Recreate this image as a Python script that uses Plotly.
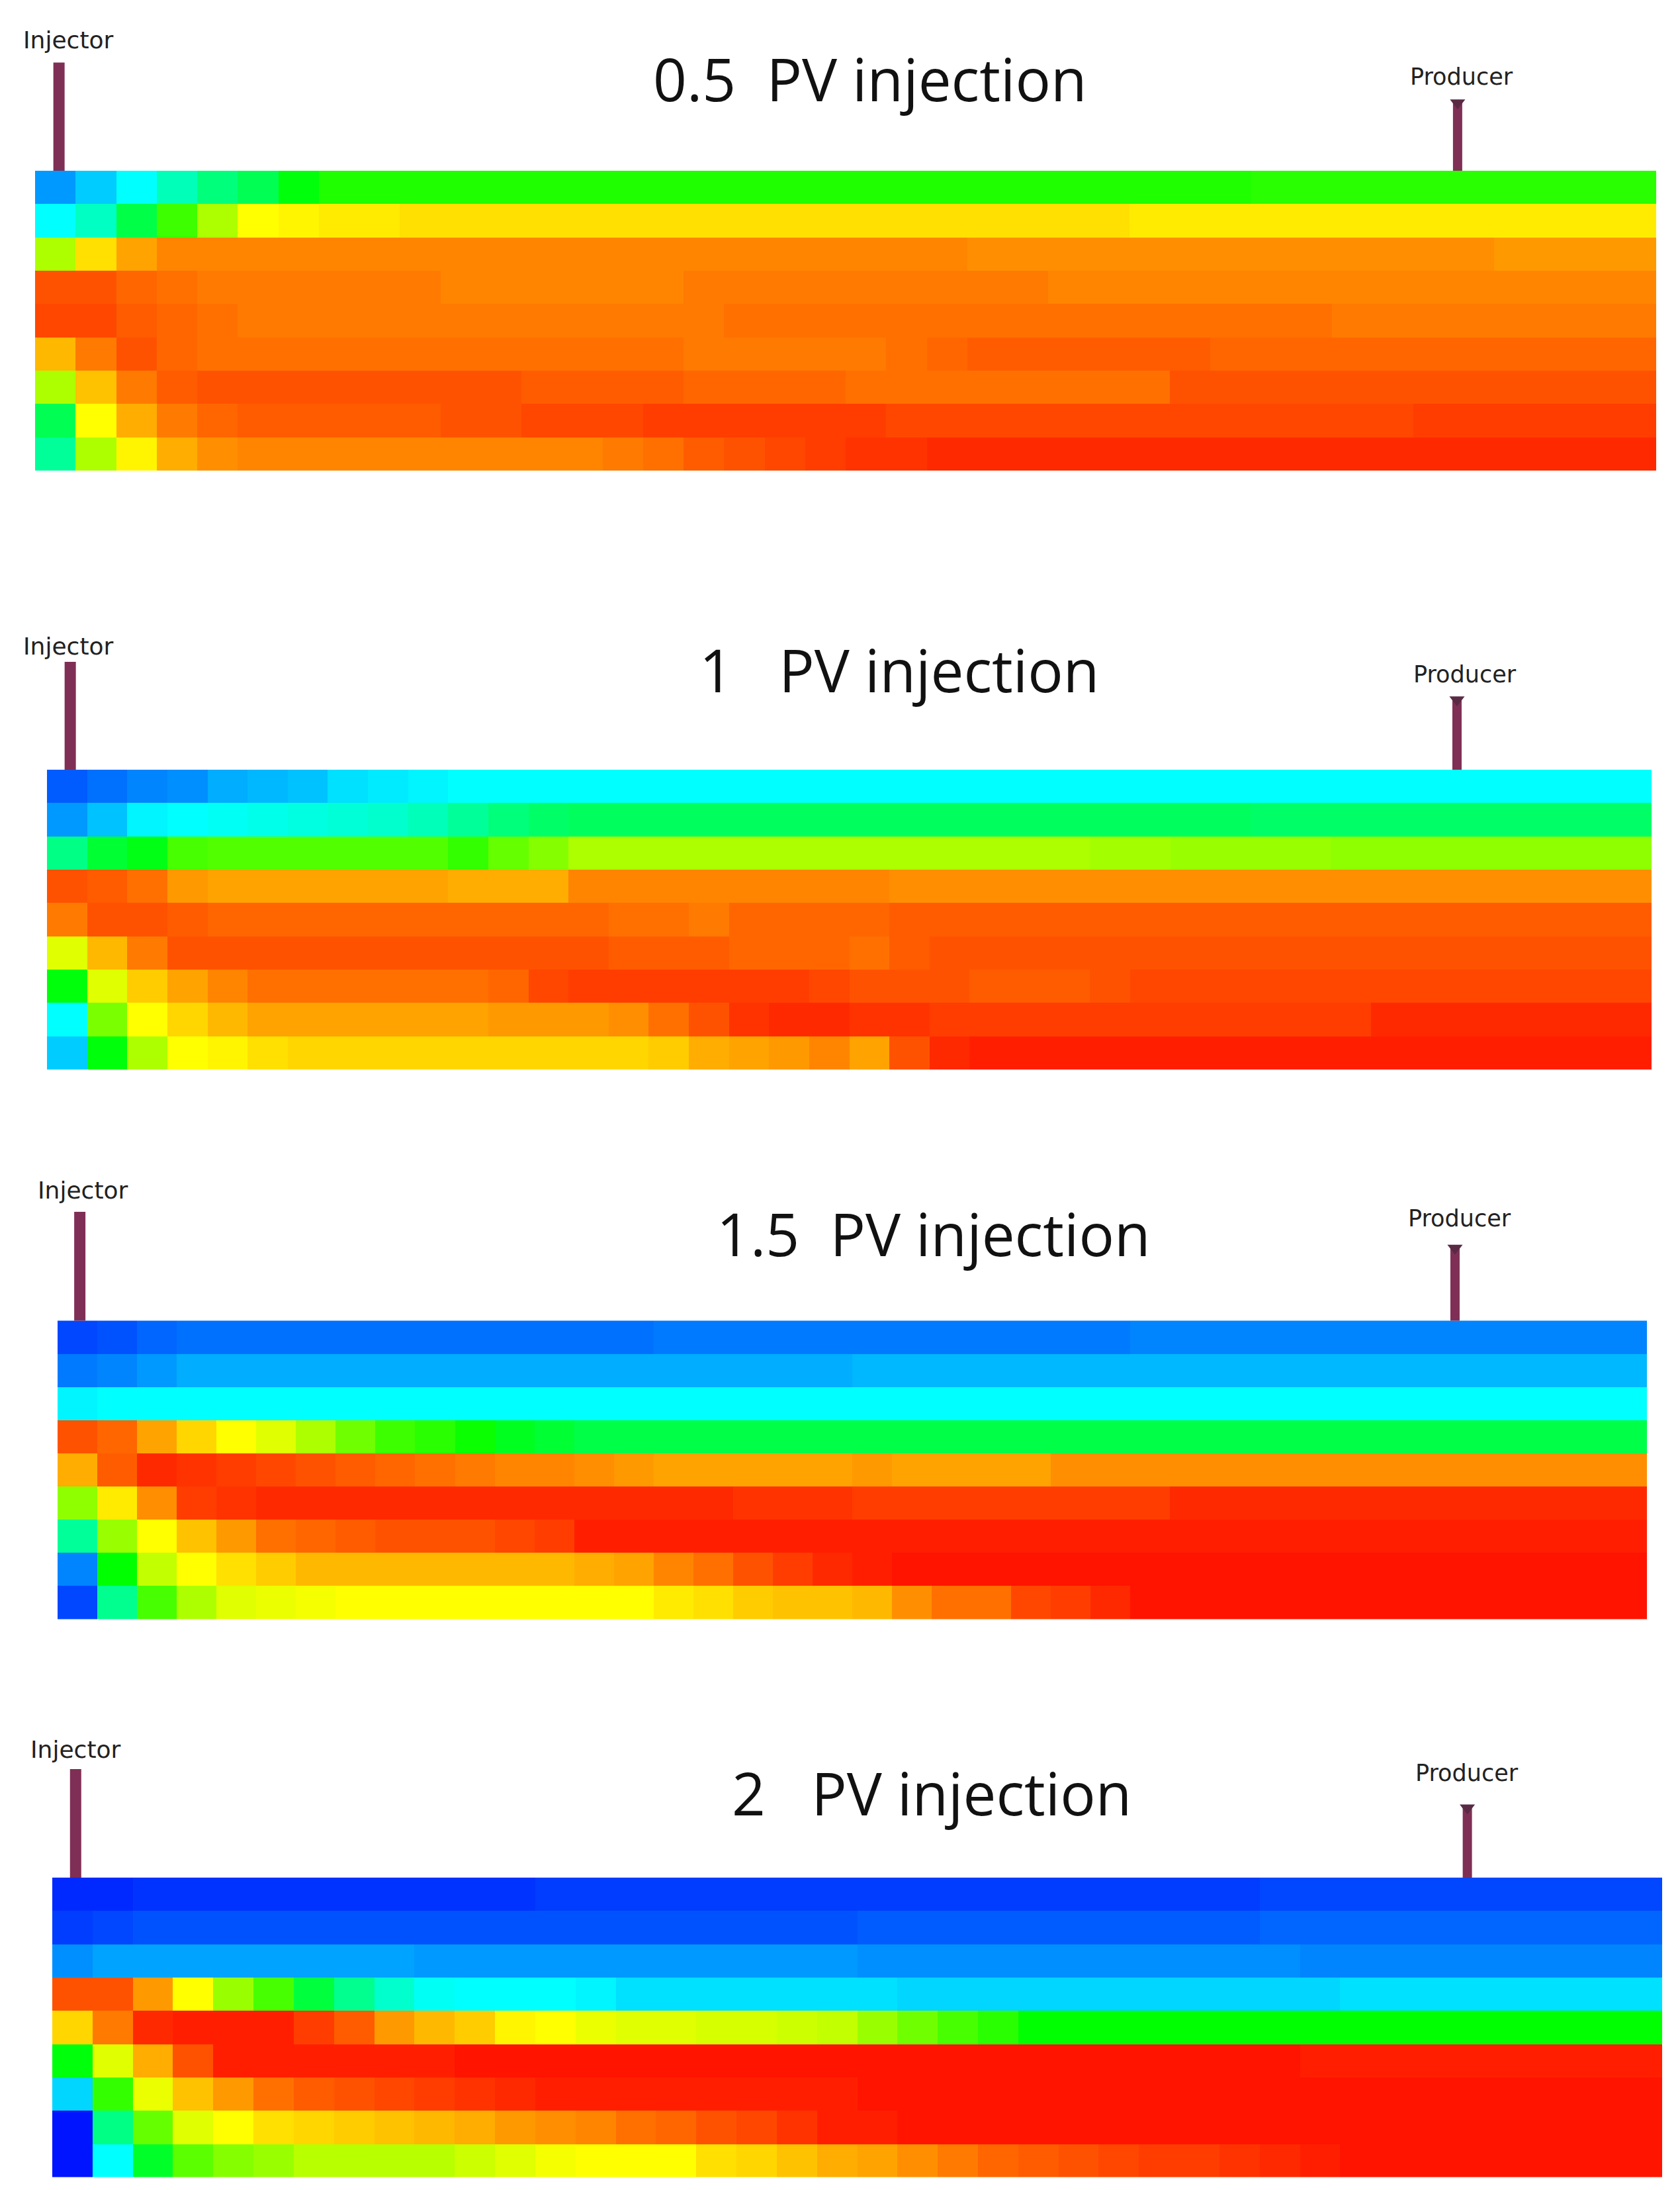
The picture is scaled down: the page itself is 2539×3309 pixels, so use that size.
import plotly.graph_objects as go

W, H = 2539, 3309

# Cell values, 0 = deep blue, 100 = red. 9 layers x 40 columns.
pv05 = [
    [15,20,25,32,38,42,49,53,53,53, 53,53,53,53,53,53,53,53,53,53, 53,53,53,53,53,53,53,53,53,53, 54,54,54,54,54,54,54,54,54,54],
    [25,31,43,56,67,75,76,77,77,78, 78,78,78,78,78,78,78,78,78,78, 78,78,78,78,78,78,78,77,77,77, 77,77,77,77,77,77,77,77,77,77],
    [67,78,84,87,87,87,87,87,87,87, 87,87,87,87,87,87,87,87,87,87, 87,87,87,86,86,86,86,86,86,86, 86,86,86,86,86,86,85,85,85,85],
    [92,92,90,89,88,88,88,88,88,88, 87,87,87,87,87,87,88,88,88,88, 88,88,88,88,88,87,87,87,87,87, 87,87,87,87,87,87,87,87,87,87],
    [93,93,91,90,89,88,88,88,88,88, 88,88,88,88,88,88,88,89,89,89, 89,89,89,89,89,89,89,89,89,89, 89,89,88,88,88,88,88,88,88,88],
    [82,88,92,90,89,89,89,89,89,89, 89,89,89,89,89,89,88,88,88,88, 88,89,90,91,91,91,91,91,91,90, 90,90,90,90,90,90,90,90,90,90],
    [67,81,88,91,92,92,92,92,92,92, 92,92,91,91,91,91,90,90,90,90, 89,89,89,89,89,89,89,89,92,92, 92,92,92,92,92,92,92,92,92,92],
    [42,75,83,88,90,91,91,91,91,91, 92,92,93,93,93,94,94,94,94,94, 94,93,93,93,93,93,93,93,93,93, 93,93,93,93,94,94,94,94,94,94],
    [35,67,76,83,86,87,87,87,87,87, 87,87,87,87,88,89,91,92,93,94, 95,95,96,96,96,96,96,96,96,96, 96,96,96,96,96,96,96,96,96,96],
]

pv10 = [
    [9,11,13,14,17,18,19,22,23,24, 25,25,25,25,25,25,25,25,25,25, 25,25,25,25,25,25,25,25,25,25, 25,25,25,25,25,25,25,25,25,25],
    [15,19,24,25,26,27,28,29,30,32, 35,38,40,41,41,41,41,41,41,41, 41,41,41,41,41,41,41,41,41,41, 40,40,40,40,40,40,40,40,40,40],
    [37,45,48,57,58,58,58,58,58,58, 55,60,63,67,67,67,67,67,67,67, 67,67,67,67,67,67,66,66,65,65, 65,65,64,64,64,64,64,64,64,64],
    [92,91,89,85,84,84,84,84,84,84, 83,83,83,87,87,87,87,87,87,87, 87,86,86,86,86,86,86,86,86,86, 86,86,86,86,86,86,86,86,86,86],
    [88,92,92,91,90,90,90,90,90,90, 90,90,90,90,89,89,88,90,90,90, 90,91,91,91,91,91,91,91,91,91, 91,91,91,91,91,91,91,91,91,91],
    [72,82,88,92,92,92,92,92,92,92, 92,92,92,92,91,91,91,90,90,90, 89,91,92,92,92,92,92,92,92,92, 92,92,92,92,92,92,92,92,92,92],
    [49,72,80,84,87,89,89,89,89,89, 89,90,93,94,94,94,94,94,94,93, 92,92,92,91,91,91,92,93,93,93, 93,93,93,93,93,93,93,93,93,93],
    [25,62,75,79,82,84,84,84,84,84, 84,85,85,85,86,89,92,95,96,96, 95,95,94,94,94,94,94,94,94,94, 94,94,94,96,96,96,96,96,96,96],
    [20,49,67,75,76,78,79,79,79,79, 79,79,79,79,79,80,83,84,85,87, 84,92,96,97,97,97,97,97,97,97, 97,97,97,97,97,97,97,97,97,97],
]

pv15 = [
    [7,8,10,11,11,11,11,11,11,11, 11,11,11,11,11,12,12,12,12,12, 12,12,12,12,12,12,12,13,13,13, 13,13,13,13,13,13,13,13,13,13],
    [12,13,15,17,17,17,17,17,17,17, 17,17,17,17,17,17,17,17,17,17, 18,18,18,18,18,18,18,18,18,18, 18,18,18,18,18,18,18,18,18,18],
    [24,25,25,25,25,25,25,25,25,25, 25,25,25,25,25,25,25,25,25,25, 25,25,25,25,25,25,25,25,25,25, 25,25,25,25,25,25,25,25,25,25],
    [92,90,84,79,75,72,67,61,56,54, 51,47,45,43,43,43,43,43,43,43, 43,43,43,43,43,43,43,43,43,43, 43,43,43,43,43,43,43,43,43,43],
    [83,91,96,95,94,93,92,91,90,89, 88,87,87,86,85,84,84,84,84,84, 85,84,84,84,84,86,86,86,86,86, 86,86,86,86,86,86,86,86,86,86],
    [64,77,86,94,95,96,96,96,96,96, 96,96,96,96,96,96,96,95,95,95, 94,94,94,94,94,94,94,94,96,96, 96,96,96,96,96,96,96,96,96,96],
    [35,65,75,81,85,89,90,91,92,92, 92,93,94,97,97,97,97,97,97,97, 97,97,97,97,97,97,97,97,97,97, 97,97,97,97,97,97,97,97,97,97],
    [13,50,69,75,78,80,82,82,82,82, 82,82,82,83,84,87,89,92,94,96, 97,98,98,98,98,98,98,98,98,98, 98,98,98,98,98,98,98,98,98,98],
    [7,36,57,67,72,73,74,75,75,75, 75,75,75,75,75,77,78,80,81,81, 82,86,89,89,93,94,96,98,98,98, 98,98,98,98,98,98,98,98,98,98],
]

pv20 = [
    [4,4,5,5,5,5,5,5,5,5, 5,5,6,6,6,6,6,6,6,6, 6,6,6,6,6,6,6,6,6,6, 7,7,7,7,7,7,7,7,7,7],
    [6,7,8,8,8,8,8,8,8,8, 8,8,8,8,8,8,8,8,8,8, 9,9,9,9,9,9,9,9,9,9, 10,10,10,10,10,10,10,10,10,10],
    [14,16,16,16,16,16,16,16,16,15, 15,15,15,15,15,15,15,15,15,15, 14,14,14,14,14,14,14,14,14,14, 14,13,13,13,13,13,13,13,13,13],
    [92,92,85,75,65,57,44,36,30,26, 25,25,25,24,22,22,22,22,22,22, 22,21,21,21,21,21,21,21,21,21, 21,21,22,22,22,22,22,22,22,22],
    [79,88,96,97,97,97,94,91,85,82, 80,76,75,73,72,72,71,71,70,69, 65,61,57,54,50,50,50,50,50,50, 50,50,50,50,50,50,50,50,50,50],
    [49,72,83,92,97,97,97,97,97,97, 98,98,98,98,98,98,98,98,98,98, 98,98,98,98,98,98,98,98,98,98, 98,97,97,97,97,97,97,97,97,97],
    [21,55,73,81,85,89,91,92,93,94, 95,96,97,97,97,97,97,97,97,97, 98,98,98,98,98,98,98,98,98,98, 98,98,98,98,98,98,98,98,98,98],
    [2,37,60,72,75,78,79,80,81,82, 83,85,86,87,89,90,92,93,95,97, 97,98,98,98,98,98,98,98,98,98, 98,98,98,98,98,98,98,98,98,98],
    [2,25,46,59,63,65,68,68,68,68, 70,72,74,75,75,75,78,79,81,83, 84,86,88,90,91,92,93,94,94,95, 96,97,98,98,98,98,98,98,98,98],
]

grids = [pv05, pv10, pv15, pv20]
titles = ["0.5  PV injection", "1   PV injection", "1.5  PV injection", "2   PV injection"]

# well position in column units and height in layer units
injector_col = [0.09, 0.08, 0.06, 0.08]
producer_col = [34.6, 34.65, 34.67, 34.66]
injector_h = [3.25, 3.24, 3.28, 3.26]
producer_h = [2.09, 2.15, 2.24, 2.15]

# page layout, in pixels of the reference
box_left = [53, 71, 87, 79]
box_right = [2503, 2496, 2489, 2512]
box_top = [258, 1163, 1995.5, 2837]
box_bottom = [711, 1616, 2447, 3289.5]
title_xy = [(1315, 118), (1359, 1011), (1411, 1863), (1408, 2708)]
inj_label_xy = [(103, 60), (103, 977), (125, 1798), (114, 2643)]
prod_label_xy = [(2209, 116), (2214, 1019), (2206, 1841), (2217, 2679)]

jet = [[0, "#0000ff"], [0.25, "#00ffff"], [0.5, "#00ff00"], [0.75, "#ffff00"], [1, "#ff0000"]]
well_color = "#7f2f55"
headroom = 3.3  # layers of empty space kept above each box for the wells

fig = go.Figure()
layout = {}
annotations = []


def px(x, y):
    return x / W, 1 - y / H


def label(text, xy, family, size, color):
    x, y = px(*xy)
    return dict(text=text, x=x, y=y, xref="paper", yref="paper", showarrow=False,
                xanchor="center", yanchor="middle",
                font=dict(family=family, size=size, color=color))


for i, z in enumerate(grids):
    suffix = "" if i == 0 else str(i + 1)
    xa, ya = "x" + suffix, "y" + suffix
    row_h = (box_bottom[i] - box_top[i]) / 9

    fig.add_trace(go.Heatmap(z=z, colorscale=jet, zmin=0, zmax=100, showscale=False,
                             xaxis=xa, yaxis=ya))
    for col, h, width, tip in [(injector_col[i], injector_h[i], 17, False),
                               (producer_col[i], producer_h[i], 14, True)]:
        fig.add_trace(go.Scatter(x=[col, col], y=[-0.5, -0.5 - h], mode="lines",
                                 line=dict(color=well_color, width=width), showlegend=False,
                                 xaxis=xa, yaxis=ya))
        if tip:
            fig.add_trace(go.Scatter(x=[col], y=[-0.45 - h], mode="markers", showlegend=False,
                                     marker=dict(symbol="triangle-down", size=20, color="#5a2a45"),
                                     xaxis=xa, yaxis=ya))

    layout["xaxis" + suffix] = dict(domain=[box_left[i] / W, box_right[i] / W], range=[-0.5, 39.5],
                                    visible=False, anchor=ya)
    layout["yaxis" + suffix] = dict(domain=[1 - box_bottom[i] / H, 1 - (box_top[i] - headroom * row_h) / H],
                                    range=[8.5, -0.5 - headroom], visible=False, anchor=xa)

    annotations.append(label(titles[i], title_xy[i], "Open Sans", 89, "#111111"))
    annotations.append(label("Injector", inj_label_xy[i], "DejaVu Sans", 36, "#222222"))
    annotations.append(label("Producer", prod_label_xy[i], "DejaVu Sans", 35, "#222222"))

fig.update_layout(width=W, height=H, margin=dict(l=0, r=0, t=0, b=0), autosize=False,
                  paper_bgcolor="white", plot_bgcolor="white", showlegend=False,
                  annotations=annotations, **layout)

fig.write_html("out.html", config={"displayModeBar": False},
               post_script="document.body.style.margin='0';")
